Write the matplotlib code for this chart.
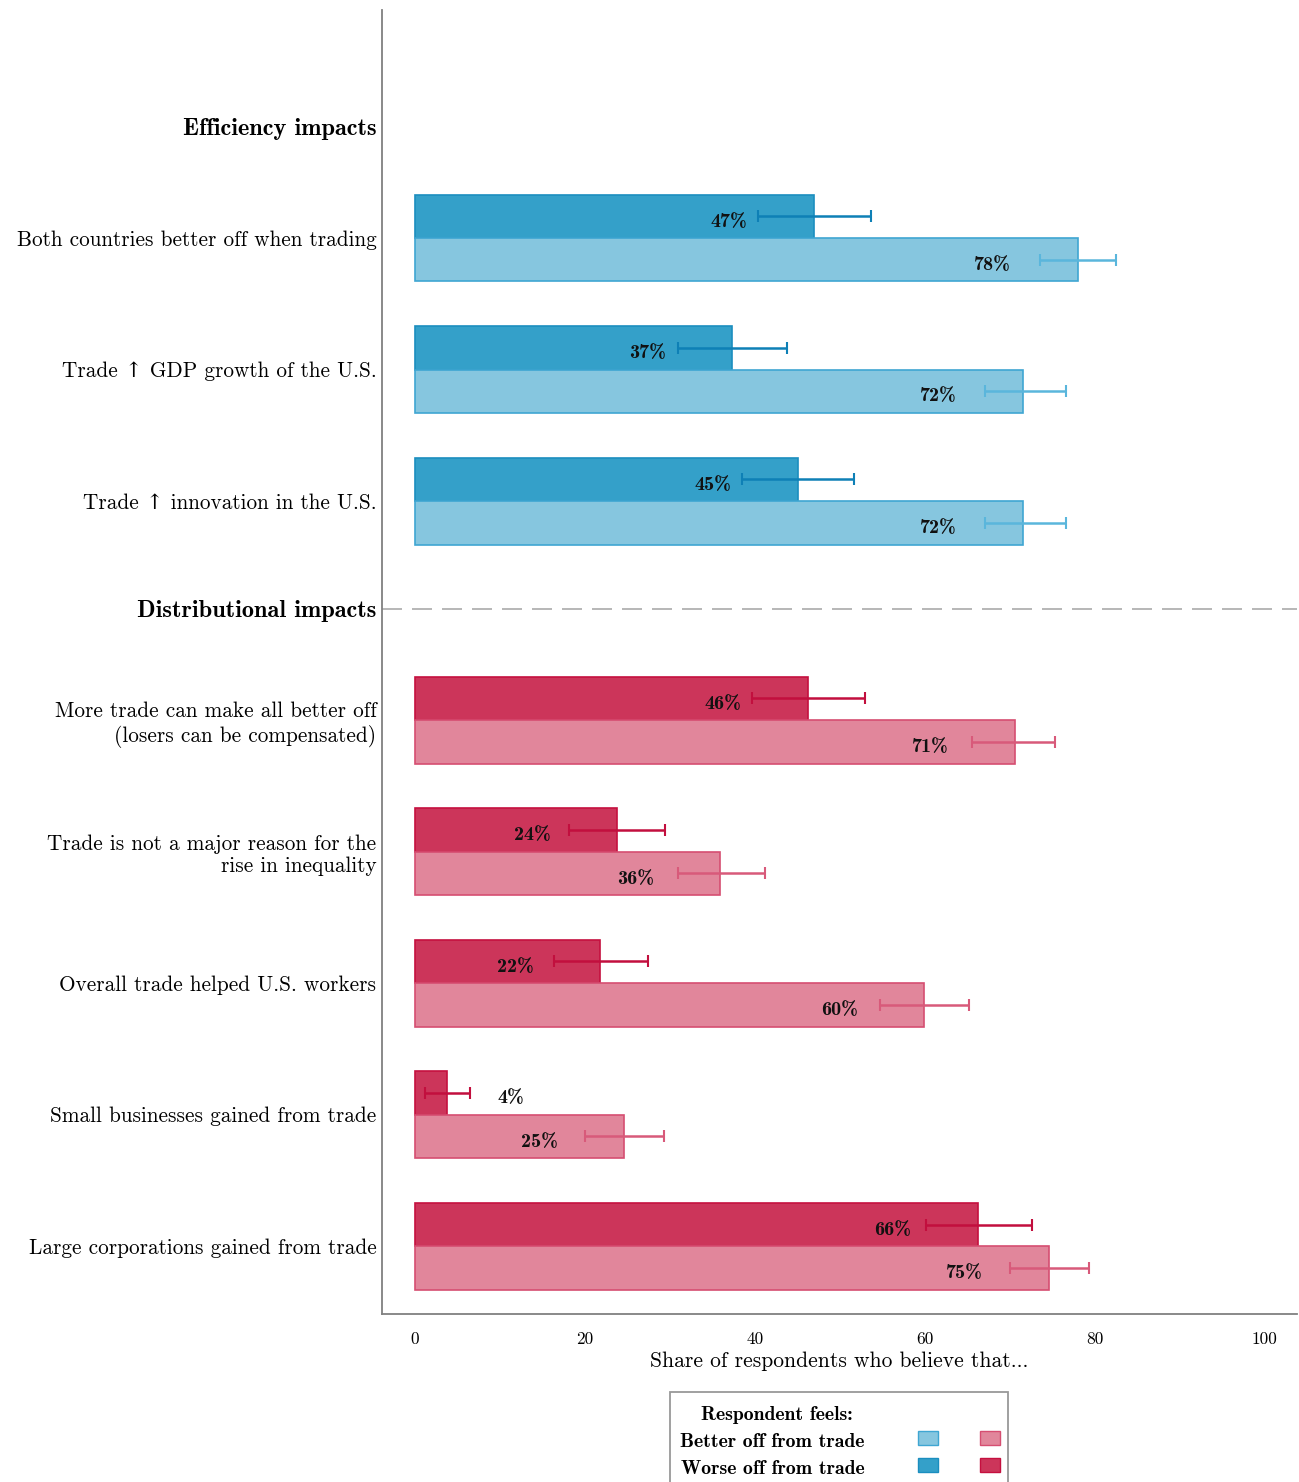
import matplotlib
matplotlib.use("Agg")
import matplotlib.pyplot as plt
from matplotlib.patches import Rectangle

plt.rcParams['font.family'] = ['cmr10', 'DejaVu Serif']
plt.rcParams['mathtext.fontset'] = 'cm'
plt.rcParams['axes.formatter.use_mathtext'] = True

# ---------------- data ----------------
eff_labels = ["Both countries better off when trading",
              "Trade \u2191 GDP growth of the U.S.",
              "Trade \u2191 innovation in the U.S."]
eff_worse = [46.9, 37.3, 45.1]
eff_worse_lo = [40.4, 30.9, 38.5]
eff_worse_hi = [53.7, 43.8, 51.6]
eff_better = [78.0, 71.6, 71.6]
eff_better_lo = [73.6, 67.1, 67.1]
eff_better_hi = [82.5, 76.6, 76.6]

dist_labels = ["More trade can make all better off\n(losers can be compensated)",
               "Trade is not a major reason for the\nrise in inequality",
               "Overall trade helped U.S. workers",
               "Small businesses gained from trade",
               "Large corporations gained from trade"]
dist_worse = [46.2, 23.8, 21.8, 3.8, 66.2]
dist_worse_lo = [39.6, 18.1, 16.4, 1.2, 60.1]
dist_worse_hi = [52.9, 29.4, 27.4, 6.4, 72.6]
dist_better = [70.6, 35.9, 59.9, 24.6, 74.6]
dist_better_lo = [65.5, 30.9, 54.7, 20.0, 70.0]
dist_better_hi = [75.3, 41.2, 65.2, 29.3, 79.3]

xticks = [0, 20, 40, 60, 80, 100]

# ---------------- style ----------------
C = {
    'eff_better': ('#86C6DF', '#3FA6D2', '#5AB6DC'),
    'eff_worse': ('#34A0C9', '#1B8EBF', '#0E80B6'),
    'dist_better': ('#E1869B', '#D64E71', '#D85A7A'),
    'dist_worse': ('#CC355A', '#C5103F', '#C20F3E'),
}
BOLD = ['cmb10', 'DejaVu Serif']

W, H = 1299, 1482
fig = plt.figure(figsize=(W / 100, H / 100), dpi=100)
ax = fig.add_axes([382 / W, 1 - 1314 / H, (1297 - 382) / W, (1314 - 10) / H])

bh = 0.33
eff_pos = [1.0, 2.0, 3.0]
dist_pos = [4.665 + k for k in range(5)]
head_eff = 0.155
head_dist = 3.82


def draw(pos, worse, wlo, whi, better, blo, bhi, kw, kb):
    for i, y in enumerate(pos):
        for val, lo, hi, yy, key in ((worse[i], wlo[i], whi[i], y - bh / 2, kw),
                                     (better[i], blo[i], bhi[i], y + bh / 2, kb)):
            fc, ec, erc = C[key]
            ax.barh(yy, val, height=bh, color=fc, edgecolor=ec, linewidth=1.2, zorder=2)
            ax.errorbar(val, yy, xerr=[[val - lo], [hi - val]], fmt='none',
                        ecolor=erc, elinewidth=1.8, capsize=4, capthick=1.5, zorder=3)
            lx = val - 10 if val > 15 else val + 7.5
            ax.text(lx, yy + 0.04, f"{val:.0f}%", ha='center', va='center',
                    fontsize=14.5, family=BOLD, color='#111111', zorder=4)


draw(eff_pos, eff_worse, eff_worse_lo, eff_worse_hi,
     eff_better, eff_better_lo, eff_better_hi, 'eff_worse', 'eff_better')
draw(dist_pos, dist_worse, dist_worse_lo, dist_worse_hi,
     dist_better, dist_better_lo, dist_better_hi, 'dist_worse', 'dist_better')

ax.axhline(head_dist, color='#AAAAAA', linestyle=(0, (12, 6)), linewidth=1.2, zorder=1)

yt = [head_eff] + eff_pos + [head_dist] + dist_pos
yl = ["Efficiency impacts"] + eff_labels + ["Distributional impacts"] + dist_labels
ax.set_yticks(yt)
ax.set_yticklabels(yl, fontsize=15.3)
for t in ax.get_yticklabels():
    if t.get_text() in ("Efficiency impacts", "Distributional impacts"):
        t.set_family(BOLD)
        t.set_fontsize(17.5)
ax.tick_params(axis='y', length=0, pad=4)
ax.set_xticks(xticks)
ax.set_xticklabels([str(v) for v in xticks], fontsize=12.5)
ax.tick_params(axis='x', length=0, pad=13)
ax.set_xlim(-3.9, 103.8)
ax.set_ylim(9.18, -0.734)
ax.set_xlabel("Share of respondents who believe that...", fontsize=15.5, labelpad=3)

for s in ('top', 'right'):
    ax.spines[s].set_visible(False)
for s in ('left', 'bottom'):
    ax.spines[s].set_color('#808080')
    ax.spines[s].set_linewidth(1.3)

# ---------------- legend (manual) ----------------
def fx(px):
    return px / W


def fy(py):
    return 1 - py / H


fig.patches.append(Rectangle((fx(670), fy(1490)), fx(1008) - fx(670), fy(1392) - fy(1490),
                             transform=fig.transFigure, facecolor='white',
                             edgecolor='#999999', linewidth=1.3))
fig.text(fx(777), fy(1415), "Respondent feels:", ha='center', va='center',
         fontsize=14.2, family=BOLD)
fig.text(fx(680), fy(1442), "Better off from trade", ha='left', va='center',
         fontsize=14.2, family=BOLD)
fig.text(fx(681), fy(1469), "Worse off from trade", ha='left', va='center',
         fontsize=14.2, family=BOLD)
for px, key, py in ((918, 'eff_better', 1438), (980, 'dist_better', 1438),
                    (918, 'eff_worse', 1465), (980, 'dist_worse', 1465)):
    fc, ec, _ = C[key]
    fig.patches.append(Rectangle((fx(px), fy(py + 7)), fx(20), fy(0) - fy(14),
                                 transform=fig.transFigure, facecolor=fc,
                                 edgecolor=ec, linewidth=1.0))

fig.savefig("out.png", dpi=100)
